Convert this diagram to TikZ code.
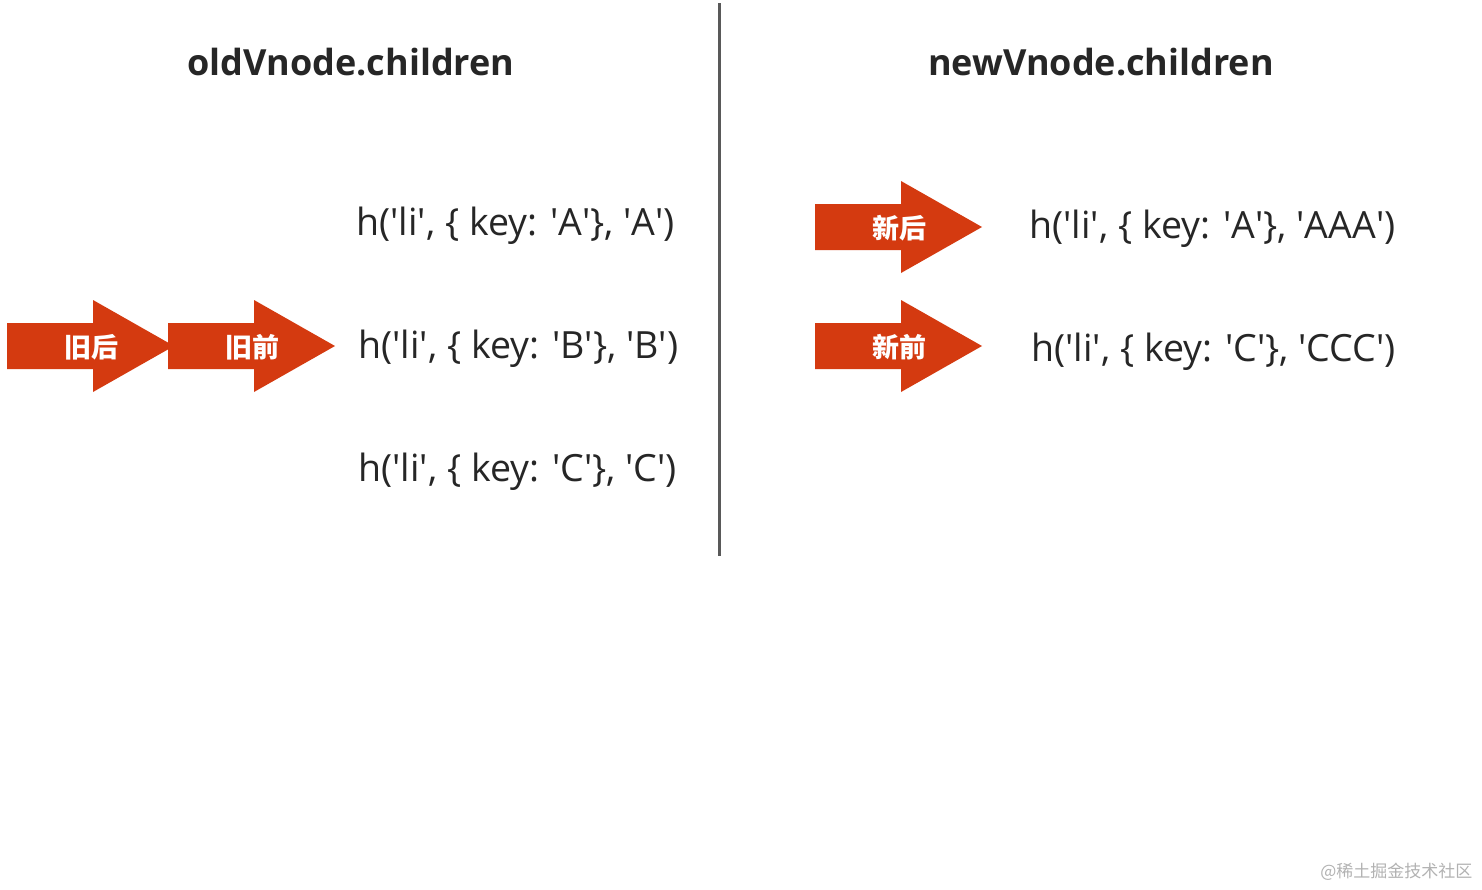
\documentclass[tikz,border=0pt]{standalone}
\usepackage{fontspec}
\setmainfont{Open Sans}
\newfontfamily\cjk{Noto Sans CJK SC}
\definecolor{ptrred}{HTML}{D43A10}
\definecolor{ink}{HTML}{262626}
\definecolor{rule}{HTML}{595959}
\newcommand{\q}{\textquotesingle}
\tikzset{
  ptr/.style={fill=ptrred},
  tag/.style={text=white,font=\cjk\bfseries\fontsize{27}{27}\selectfont},
  head/.style={text=ink,font=\bfseries\fontsize{36}{36}\selectfont},
  code/.style={text=ink,font=\fontsize{37.5}{37.5}\selectfont,anchor=west},
}
% pointer arrow: name, left x, centre y, label
\newcommand{\Ptr}[4]{%
  \fill[ptr] (#2,#3-23) -- ++(86,0) -- ++(0,-23) -- (#2+167,#3)
    -- (#2+86,#3+46) -- ++(0,-23) -- (#2,#3+23) -- cycle;
  \node[tag] (#1) at (#2+84,#3+1) {#4};}
\begin{document}
\begin{tikzpicture}[x=1pt,y=-1pt]
   \useasboundingbox[fill=white] (0,0) rectangle (1482,889);
   \coordinate (top) at (719,3);
   \coordinate (bot) at (719,556);
   \draw[rule,line width=3] (top) -- (bot);
   \node[head] (oldT) at (351,62) {oldVnode.children};
   \node[head] (newT) at (1101,62) {newVnode.children};
   \node[code] (oldA) at (353,226) {h(\q li\q, \{ key: \q A\q\}, \q A\q)};
   \node[code] (oldB) at (355,349) {h(\q li\q, \{ key: \q B\q\}, \q B\q)};
   \node[code] (oldC) at (355,472) {h(\q li\q, \{ key: \q C\q\}, \q C\q)};
   \node[code] (newA) at (1026,229) {h(\q li\q, \{ key: \q A\q\}, \q AAA\q)};
   \node[code] (newC) at (1028,352) {h(\q li\q, \{ key: \q C\q\}, \q CCC\q)};
   \Ptr{oldE}{7}{346}{旧后}
   \Ptr{oldS}{168}{346}{旧前}
   \Ptr{newE}{815}{227}{新后}
   \Ptr{newS}{815}{346}{新前}
   \node[text=black!30,font=\cjk\fontsize{17}{17}\selectfont,anchor=east] (mark) at (1476,872) {@稀土掘金技术社区};
\end{tikzpicture}
\end{document}
